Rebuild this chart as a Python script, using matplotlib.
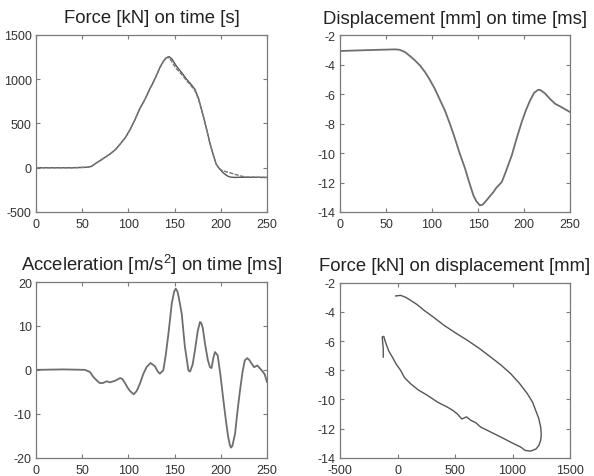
import numpy as np
import matplotlib
matplotlib.use('Agg')
import matplotlib.pyplot as plt

# Data

# Force [kN] on time [s] - two nearly identical traces
force_t1 = [0, 20, 40, 55, 60, 64, 69, 75, 80, 86, 91, 97, 102, 107, 112, 118, 123, 129, 134, 138, 141, 144, 147, 152,
            158, 163, 168, 172, 176, 181, 185, 188, 192, 195, 198, 201, 204, 207, 210, 215, 220, 230, 240, 250]
force_v1 = [0, 0, 0, 5, 15, 45, 78, 120, 154, 205, 266, 345, 435, 540, 660, 775, 886, 1010, 1130, 1205, 1243, 1255, 1230, 1148,
            1070, 999, 940, 886, 780, 585, 420, 285, 140, 41, -5, -40, -70, -92, -105, -110, -108, -108, -108, -110]
force_t2 = [0, 20, 40, 55, 60, 64, 69, 75, 80, 86, 91, 97, 102, 107, 112, 118, 123, 129, 134, 138, 141, 143, 145, 148, 152,
            158, 163, 168, 172, 176, 181, 185, 188, 192, 195, 198, 201, 206, 211, 217, 222, 228, 240, 250]
force_v2 = [0, 0, 0, 5, 15, 45, 78, 120, 154, 205, 266, 345, 435, 540, 660, 775, 886, 1010, 1130, 1205, 1240, 1245, 1230, 1180, 1118,
            1050, 985, 925, 870, 770, 585, 420, 285, 140, 41, -5, -30, -46, -60, -80, -95, -105, -108, -110]

# Displacement [mm] on time [ms]
disp_t = [0, 30, 60, 65, 70.6, 75, 81.5, 87, 92.4, 97, 103, 108, 114, 120, 125, 130, 136, 140, 145, 148, 152, 155, 157.6,
          162, 166.7, 170, 175.8, 180, 186.7, 192, 197.5, 202, 206.6, 211, 215.6, 218, 223, 228, 233.7, 240, 250]
disp_v = [-3.06, -3.0, -2.95, -2.98, -3.13, -3.35, -3.70, -4.05, -4.49, -4.95, -5.62, -6.3, -7.10, -8.1, -9.02, -10.0, -11.06,
          -11.9, -12.87, -13.25, -13.55, -13.5, -13.33, -13.0, -12.65, -12.35, -11.97, -11.3, -10.15, -9.0, -7.89, -7.1,
          -6.42, -5.9, -5.69, -5.72, -5.95, -6.3, -6.64, -6.85, -7.21]

# Acceleration [m/s^2] on time [ms]
acc_t = [0, 30, 53, 58.5, 62, 65.7, 69, 72.5, 76.5, 80, 85.5, 91, 93.5, 96.3, 99, 101.7, 105.8, 109, 112.5, 116, 119.7, 124,
         128.8, 131.5, 134, 137.8, 140.5, 143.3, 147, 149.5, 151.2, 153, 154.5, 157.7, 161, 164.9, 166.7, 169.5, 172, 175,
         177.5, 179, 180.5, 182.9, 186, 188.3, 190, 192, 193.7, 196.6, 199.5, 202.8, 205.5, 208, 209.8, 211, 212.5, 215.4,
         218, 220.8, 223.5, 226, 228.7, 231, 233.4, 236, 239.5, 244.2, 247.5, 250]
acc_v = [0, 0.1, 0, -0.5, -1.6, -2.4, -3.0, -3.0, -2.6, -2.85, -2.5, -1.86, -2.1, -3.0, -4.0, -4.82, -5.57, -4.8, -3.14,
         -1.0, 0.65, 1.56, 0.8, -0.3, -0.88, -0.1, 3.5, 8.2, 15.2, 17.8, 18.5, 17.9, 16.5, 12.8, 5.5, -0.1, -0.4, 1.2, 4.4,
         8.8, 10.9, 10.6, 9.5, 5.95, 2.2, 0.6, 0.4, 2.8, 4.06, 3.3, -1.0, -6.9, -11.5, -15.3, -17.1, -17.7, -17.3, -14.6,
         -9.5, -4.66, -0.5, 2.17, 2.67, 2.2, 1.4, 0.6, 1.0, -0.1, -1.0, -2.77]

# Displacement [mm] on force [kN] loop
loop_f = [-16, 27, 70, 114, 170, 230, 310, 404, 500, 607, 710, 810, 900, 984, 1060, 1129, 1175, 1201, 1228, 1245, 1250,
          1245, 1230, 1205, 1158, 1110, 1071, 1000, 897, 800, 723, 680, 640, 600, 560, 520, 480, 433, 350, 259, 180, 114,
          60, 27, -10, -45, -75, -95, -110, -119, -133, -124, -124]
loop_d = [-2.91, -2.87, -3.0, -3.21, -3.5, -3.89, -4.35, -4.92, -5.42, -5.95, -6.5, -7.10, -7.65, -8.24, -8.9, -9.61, -10.2,
          -10.75, -11.3, -11.9, -12.4, -12.81, -13.15, -13.4, -13.55, -13.5, -13.27, -13.0, -12.58, -12.2, -11.9, -11.6,
          -11.45, -11.2, -11.35, -11.0, -10.75, -10.53, -10.2, -9.72, -9.35, -8.93, -8.5, -8.01, -7.6, -7.10, -6.7, -6.29,
          -5.95, -5.68, -5.73, -6.52, -7.10]

plt.rcParams['font.family'] = ['Liberation Sans', 'DejaVu Sans']
plt.rcParams['mathtext.fontset'] = 'custom'
plt.rcParams['mathtext.rm'] = 'Liberation Sans'
plt.rcParams['mathtext.it'] = 'Liberation Sans'
plt.rcParams['axes.unicode_minus'] = False

frame = '#7a7a7a'
linecol = '#6e6e6e'


def style(ax, xlim, ylim, xticks, yticks, title):
    ax.set_xlim(xlim)
    ax.set_ylim(ylim)
    ax.set_xticks(xticks)
    ax.set_yticks(yticks)
    ax.tick_params(direction='in', top=True, right=True, length=3, width=0.8,
                   color=frame, labelsize=9, labelcolor='#333333')
    ax.tick_params(axis='x', pad=4.5)
    ax.tick_params(axis='y', pad=3)
    for s in ax.spines.values():
        s.set_color(frame)
        s.set_linewidth(0.9)
    ax.set_title(title, fontsize=13.3, color='#222222', pad=9)


fig = plt.figure(figsize=(5.94, 4.77), dpi=100)

ax1 = fig.add_axes([0.0606, 0.5535, 0.3889, 0.3711])
ax1.plot(force_t1, force_v1, color='#555555', lw=1.0)
ax1.plot(force_t2, force_v2, color='#777777', lw=1.0, dashes=(3, 1))
style(ax1, (0, 250), (-500, 1500), [0, 50, 100, 150, 200, 250], [-500, 0, 500, 1000, 1500],
      'Force [kN] on time [s]')

ax2 = fig.add_axes([0.5724, 0.5535, 0.3872, 0.3702])
ax2.plot(disp_t, disp_v, color=linecol, lw=1.3)
style(ax2, (0, 250), (-14, -2), [0, 50, 100, 150, 200, 250], [-14, -12, -10, -8, -6, -4, -2],
      'Displacement [mm] on time [ms]')

ax3 = fig.add_axes([0.0606, 0.0384, 0.3889, 0.3683])
ax3.plot(acc_t, acc_v, color=linecol, lw=1.3)
style(ax3, (0, 250), (-20, 20), [0, 50, 100, 150, 200, 250], [-20, -10, 0, 10, 20],
      r'Acceleration [m/s$^2$] on time [ms]')

ax4 = fig.add_axes([0.5724, 0.0384, 0.3872, 0.3669])
ax4.plot(loop_f, loop_d, color='#555555', lw=1.0)
style(ax4, (-500, 1500), (-14, -2), [-500, 0, 500, 1000, 1500], [-14, -12, -10, -8, -6, -4, -2],
      'Force [kN] on displacement [mm]')

fig.savefig('out.png', dpi=100)
